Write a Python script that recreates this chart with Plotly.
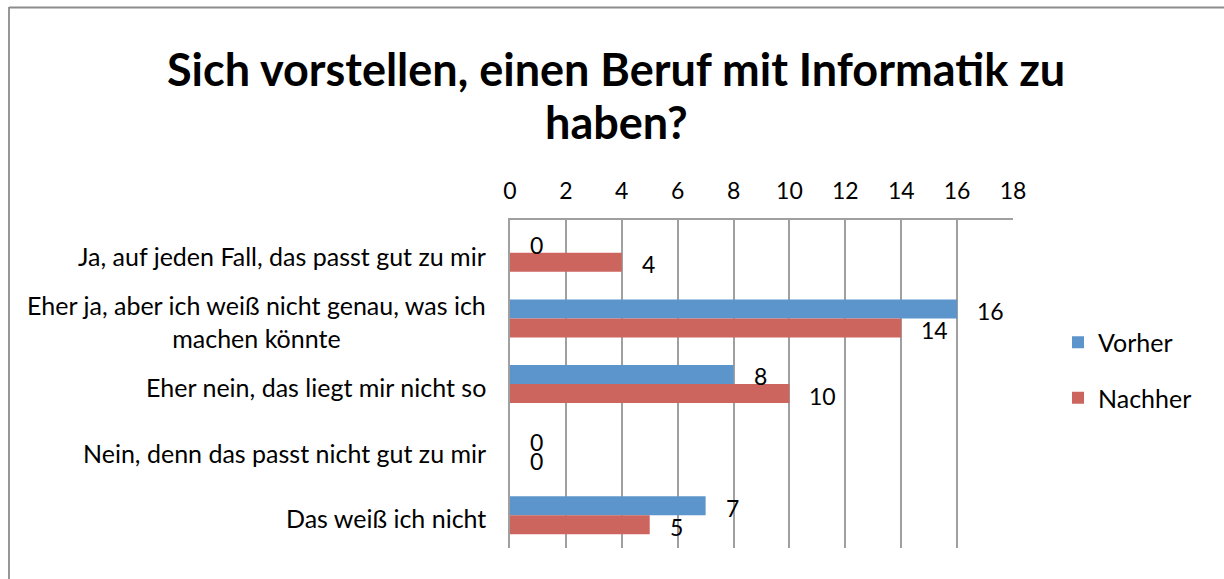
import plotly.graph_objects as go

categories = [
    "Ja, auf jeden Fall, das passt gut zu mir",
    "Eher ja, aber ich weiß nicht genau, was ich<br>machen könnte",
    "Eher nein, das liegt mir nicht so",
    "Nein, denn das passt nicht gut zu mir",
    "Das weiß ich nicht",
]
vorher = [0, 16, 8, 0, 7]
nachher = [4, 14, 10, 0, 5]
series_names = ["Vorher", "Nachher"]
x_ticks = list(range(0, 19, 2))
title_lines = ["Sich vorstellen, einen Beruf mit Informatik zu", "haben?"]

PW, PH = 1224, 579
L, R, T, B = 510, 1013, 220, 548  # plot area in page pixels
BLUE = "#5B95CB"
RED = "#CD655F"
GRID = "#A0A0A0"
FONT = "Lato"
bargap = 0.42
half = (1 - bargap) / 4  # offset of each bar center from category center

ypos = list(range(len(categories)))

fig = go.Figure()
fig.add_trace(go.Bar(y=ypos, x=vorher, orientation="h", name=series_names[0],
                     marker=dict(color=BLUE, line=dict(width=0)), legendgroup="a"))
fig.add_trace(go.Bar(y=ypos, x=nachher, orientation="h", name=series_names[1],
                     marker=dict(color=RED, line=dict(width=0)), legendgroup="b"))


def px_to_paper_x(px):
    return (px - L) / (R - L)


def px_to_paper_y(py):
    return (B - py) / (B - T)


annotations = []
# data labels
for vals, off in ((vorher, -half), (nachher, half)):
    for i, v in enumerate(vals):
        annotations.append(dict(x=v, y=i + off, xref="x", yref="y", text=str(v),
                                showarrow=False, xanchor="left", yanchor="middle",
                                xshift=18, yshift=-2,
                                font=dict(family=FONT, size=23, color="black")))
# category labels
for i, c in enumerate(categories):
    annotations.append(dict(x=0, y=i, xref="paper", yref="y", text=c, showarrow=False,
                            xanchor="right", yanchor="middle", align="center",
                            xshift=-22, yshift=-3,
                            font=dict(family=FONT, size=25, color="black")))
# title
for ln, py in zip(title_lines, (69, 122)):
    annotations.append(dict(x=px_to_paper_x(616), y=px_to_paper_y(py), xref="paper", yref="paper",
                            text="<b>" + ln + "</b>", showarrow=False, xanchor="center",
                            yanchor="middle",
                            font=dict(family=FONT, size=45, color="black")))

shapes = [
    dict(type="line", xref="paper", yref="paper", x0=px_to_paper_x(9), x1=px_to_paper_x(1240),
         y0=px_to_paper_y(7.5), y1=px_to_paper_y(7.5), line=dict(color="#8C8C8C", width=1.8)),
    dict(type="line", xref="paper", yref="paper", x0=px_to_paper_x(9), x1=px_to_paper_x(9),
         y0=px_to_paper_y(7), y1=px_to_paper_y(600), line=dict(color="#8C8C8C", width=1.8)),
]

fig.update_layout(
    width=PW, height=PH,
    margin=dict(l=L, r=PW - R, t=T, b=PH - B, autoexpand=False),
    paper_bgcolor="white", plot_bgcolor="white",
    barmode="group", bargap=bargap, bargroupgap=0,
    showlegend=True,
    legend=dict(x=px_to_paper_x(1058), y=px_to_paper_y(370), xanchor="left", yanchor="middle",
                traceorder="grouped", tracegroupgap=20,
                font=dict(family=FONT, size=25, color="black"), bgcolor="rgba(0,0,0,0)"),
    annotations=annotations,
    shapes=shapes,
    font=dict(family=FONT, color="black"),
)
fig.update_xaxes(side="top", range=[0, 18], tickvals=x_ticks, showgrid=True, gridcolor=GRID,
                 gridwidth=1.5, showline=True, linecolor=GRID, linewidth=1.5, zeroline=False,
                 ticks="", ticklabelstandoff=10, automargin=False,
                 tickfont=dict(family=FONT, size=23, color="black"))
fig.update_yaxes(range=[len(categories) - 0.5, -0.5], tickvals=ypos, showticklabels=False,
                 showgrid=False, showline=True, linecolor=GRID, linewidth=1.5, zeroline=False,
                 ticks="", automargin=False)

# remove the default page margin so the figure fills the window exactly
fig.write_html(
    "out.html",
    config={"displayModeBar": False},
    post_script="document.documentElement.style.overflow='hidden';"
                "document.body.style.margin='0';document.body.style.overflow='hidden';",
)
